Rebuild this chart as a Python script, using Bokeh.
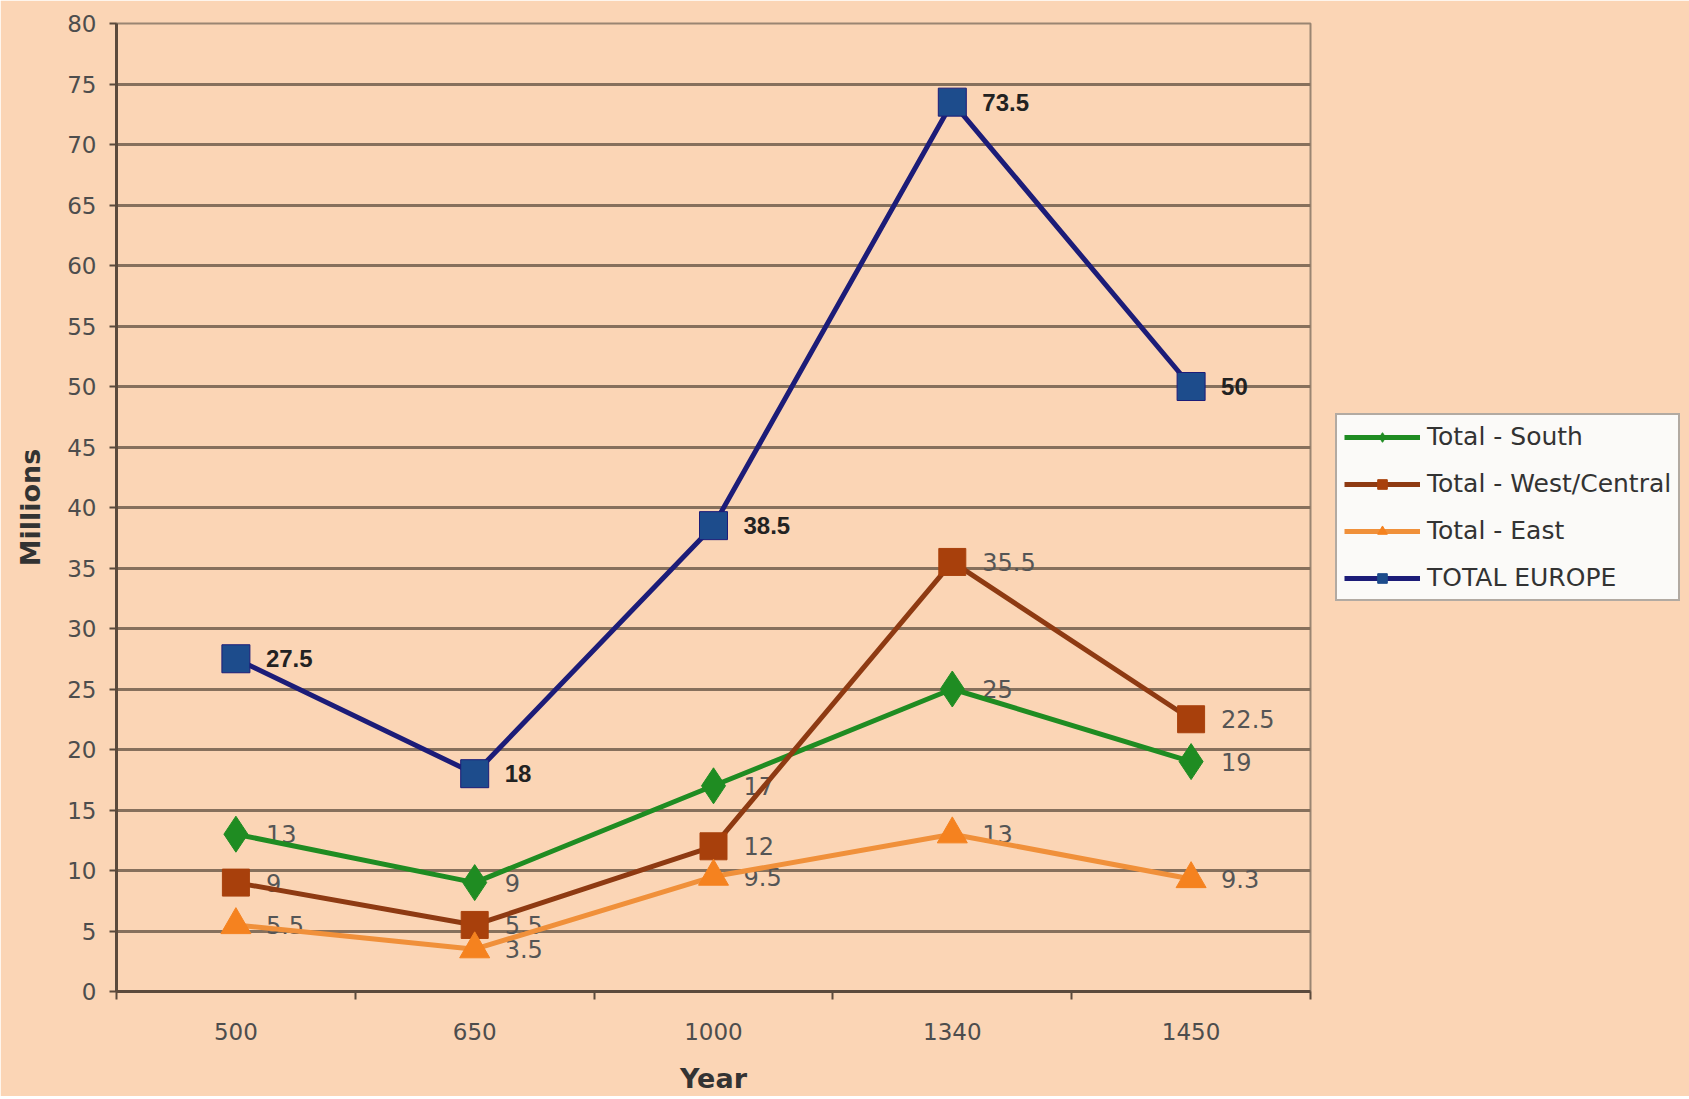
import math
from bokeh.plotting import figure
from bokeh.models import ColumnDataSource, FixedTicker, Range1d, Legend, LegendItem
from bokeh.core.properties import value
from bokeh.embed import file_html
from bokeh.resources import INLINE

years = ["500", "650", "1000", "1340", "1450"]
south = [13, 9, 17, 25, 19]
west_central = [9, 5.5, 12, 35.5, 22.5]
east = [5.5, 3.5, 9.5, 13, 9.3]
total_europe = [27.5, 18, 38.5, 73.5, 50]
y_ticks = list(range(0, 81, 5))
series_names = ["Total - South", "Total - West/Central", "Total - East", "TOTAL EUROPE"]

WIDE = "DejaVu Sans"
ARIAL = "Liberation Sans"
BG = "#FBD5B5"
GRID = "#86705c"

xs = list(range(len(years)))

p = figure(frame_width=1194, frame_height=968,
           min_border_left=116, min_border_right=362, min_border_top=23, min_border_bottom=92,
           x_range=Range1d(-0.5, len(years) - 0.5), y_range=Range1d(0, 80),
           output_backend="svg", toolbar_location=None)
p.background_fill_color = BG
p.border_fill_color = BG
p.outline_line_color = "#9a8572"
p.outline_line_width = 2

# axes
p.xaxis.ticker = FixedTicker(ticks=xs, minor_ticks=[i - 0.5 for i in range(len(years) + 1)])
p.xaxis.major_label_overrides = {i: y for i, y in enumerate(years)}
p.xaxis.major_tick_line_color = None
p.xaxis.major_tick_out = 0
p.xaxis.major_tick_in = 0
p.xaxis.minor_tick_out = 8
p.xaxis.minor_tick_in = 0
p.xaxis.minor_tick_line_color = "#5b4a3c"
p.xaxis.minor_tick_line_width = 2
p.xaxis.axis_line_color = "#5b4a3c"
p.xaxis.axis_line_width = 3
p.xaxis.major_label_standoff = 23
p.xaxis.axis_label = "Year"
p.xaxis.axis_label_standoff = 20

p.yaxis.ticker = FixedTicker(ticks=y_ticks, minor_ticks=[])
p.yaxis.major_tick_out = 7
p.yaxis.major_tick_in = 0
p.yaxis.major_tick_line_color = "#5b4a3c"
p.yaxis.major_tick_line_width = 2
p.yaxis.axis_line_color = "#5b4a3c"
p.yaxis.axis_line_width = 3
p.yaxis.major_label_standoff = 13
p.yaxis.axis_label = "Millions"
p.yaxis.axis_label_standoff = 18

for ax in (p.xaxis, p.yaxis):
    ax.major_label_text_font = WIDE
    ax.major_label_text_font_size = "23px"
    ax.major_label_text_color = "#4d4d4d"
    ax.axis_label_text_font = WIDE
    ax.axis_label_text_font_size = "27px"
    ax.axis_label_text_font_style = "bold"
    ax.axis_label_text_color = "#333333"

p.xgrid.grid_line_color = None
p.ygrid.grid_line_color = GRID
p.ygrid.grid_line_width = 3
p.ygrid.ticker = FixedTicker(ticks=y_ticks)

specs = [
    (south, "#1f8c22", "#1f8c22", "diamond", 36, "normal", "#555555", WIDE, "24px"),
    (west_central, "#8e3a12", "#a8400c", "square", 27, "normal", "#555555", WIDE, "24px"),
    (east, "#f0903a", "#f5821f", "triangle", 30, "normal", "#555555", WIDE, "24px"),
    (total_europe, "#1c1c78", "#1d4c8c", "square", 28, "bold", "#222222", ARIAL, "24px"),
]

legend_items = []
for name, (vals, lcol, mcol, marker, msize, fstyle, tcol, tfont, tsize) in zip(series_names, specs):
    labels = [str(int(v)) if float(v).is_integer() else str(v) for v in vals]
    src = ColumnDataSource(dict(x=xs, y=vals, label=labels))
    p.text(x="x", y="y", text="label", source=src, x_offset=30, y_offset=0,
           text_font=value(tfont), text_font_size=tsize, text_font_style=fstyle,
           text_color=tcol, text_baseline="middle", text_align="left")
    p.line(x="x", y="y", source=src, line_color=lcol, line_width=5)
    p.scatter(x="x", y="y", source=src, marker=marker, size=msize,
              fill_color=mcol, line_color=lcol if name == "TOTAL EUROPE" else mcol, line_width=1)
    # legend glyphs (not drawn in the plot: NaN data)
    lsrc = ColumnDataSource(dict(x=[0], y=[float("nan")]))
    r1 = p.line(x="x", y="y", source=lsrc, line_color=lcol, line_width=5)
    r2 = p.scatter(x="x", y="y", source=lsrc, marker=marker, size=12,
                   fill_color=mcol, line_color=mcol)
    legend_items.append(LegendItem(label=name, renderers=[r1, r2]))

legend = Legend(items=legend_items, location="center_left", margin=25)
legend.label_text_font = WIDE
legend.label_text_font_size = "25px"
legend.label_text_color = "#333333"
legend.glyph_width = 76
legend.glyph_height = 24
legend.label_height = 24
legend.label_standoff = 7
legend.spacing = 18
legend.padding = 7
legend.border_line_color = "#6a5a4c"
legend.border_line_width = 2
legend.background_fill_color = "#fbfaf8"
legend.background_fill_alpha = 1.0
p.add_layout(legend, "right")

open("out.html", "w").write(file_html(p, INLINE))
